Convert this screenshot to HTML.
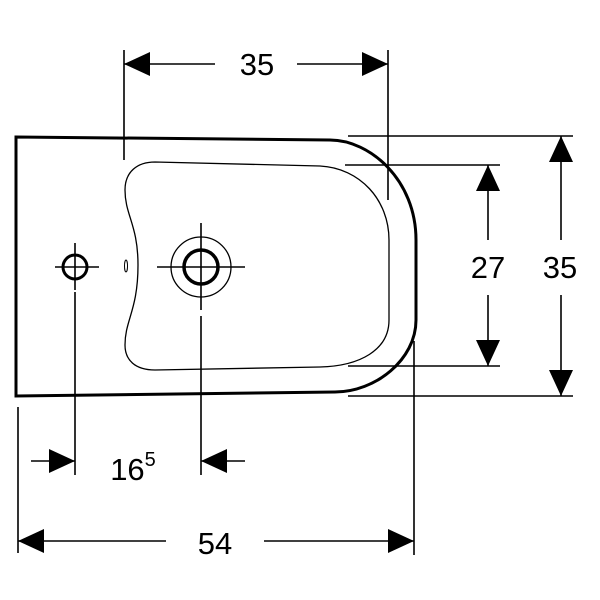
<!DOCTYPE html>
<html><head><style>body{margin:0;background:#fff}svg{display:block}</style></head><body>
<svg width="600" height="600" viewBox="0 0 600 600" xmlns="http://www.w3.org/2000/svg">
<defs>
<marker id="a" viewBox="0 0 26 24" refX="26" refY="12" markerWidth="26" markerHeight="24" markerUnits="userSpaceOnUse" orient="auto"><path d="M0,0 L26,12 L0,24 Z" fill="#000"/></marker>
</defs>
<g fill="none" stroke="#000">
<path d="M16,137 L330,140 C370,140 416,180 416,240 L416,320 C416,360 375,392 335,392 L16,396 Z" stroke-width="3"/>
<path d="M155,162 L320,166 C360,168 389,200 389,240 L389,320 C389,350 360,366 320,367 L155,370 C135,370 125,360 125,345 C125,320 138,310 138,265 C138,225 125,215 125,190 C125,172 137,162 155,162 Z" stroke-width="1.3"/>
<ellipse cx="126" cy="266" rx="1.5" ry="6" stroke-width="1"/>
<circle cx="75" cy="267" r="12" stroke-width="3"/>
<circle cx="201" cy="267" r="17" stroke-width="3.5"/>
<circle cx="201" cy="267" r="30" stroke-width="1.3"/>
<g stroke-width="1.6">
<path d="M55,267H99M75,243V290M75,292V475"/>
<path d="M157,267H245M201,223V310M201,316V475"/>
<path d="M124,50V160M388,50V200"/>
<path d="M348,136H573M345,165H500M348,366H500M348,396H573"/>
<path d="M414,341V555M18,407V553"/>
<path d="M215,64H124" marker-end="url(#a)"/>
<path d="M297,64H388" marker-end="url(#a)"/>
<path d="M488,240V165" marker-end="url(#a)"/>
<path d="M488,295V366" marker-end="url(#a)"/>
<path d="M561,240V136" marker-end="url(#a)"/>
<path d="M561,295V396" marker-end="url(#a)"/>
<path d="M31,461H75" marker-end="url(#a)"/>
<path d="M245,461H201" marker-end="url(#a)"/>
<path d="M166,541H18" marker-end="url(#a)"/>
<path d="M264,541H414" marker-end="url(#a)"/>
</g>
</g>
<g font-family="Liberation Sans, sans-serif" font-size="31" fill="#000" text-anchor="middle">
<text x="257" y="75">35</text>
<text x="488" y="278">27</text>
<text x="560" y="278">35</text>
<text x="215" y="554">54</text>
<text x="133" y="480">16<tspan font-size="20" dy="-14">5</tspan></text>
</g>
</svg>
</body></html>
